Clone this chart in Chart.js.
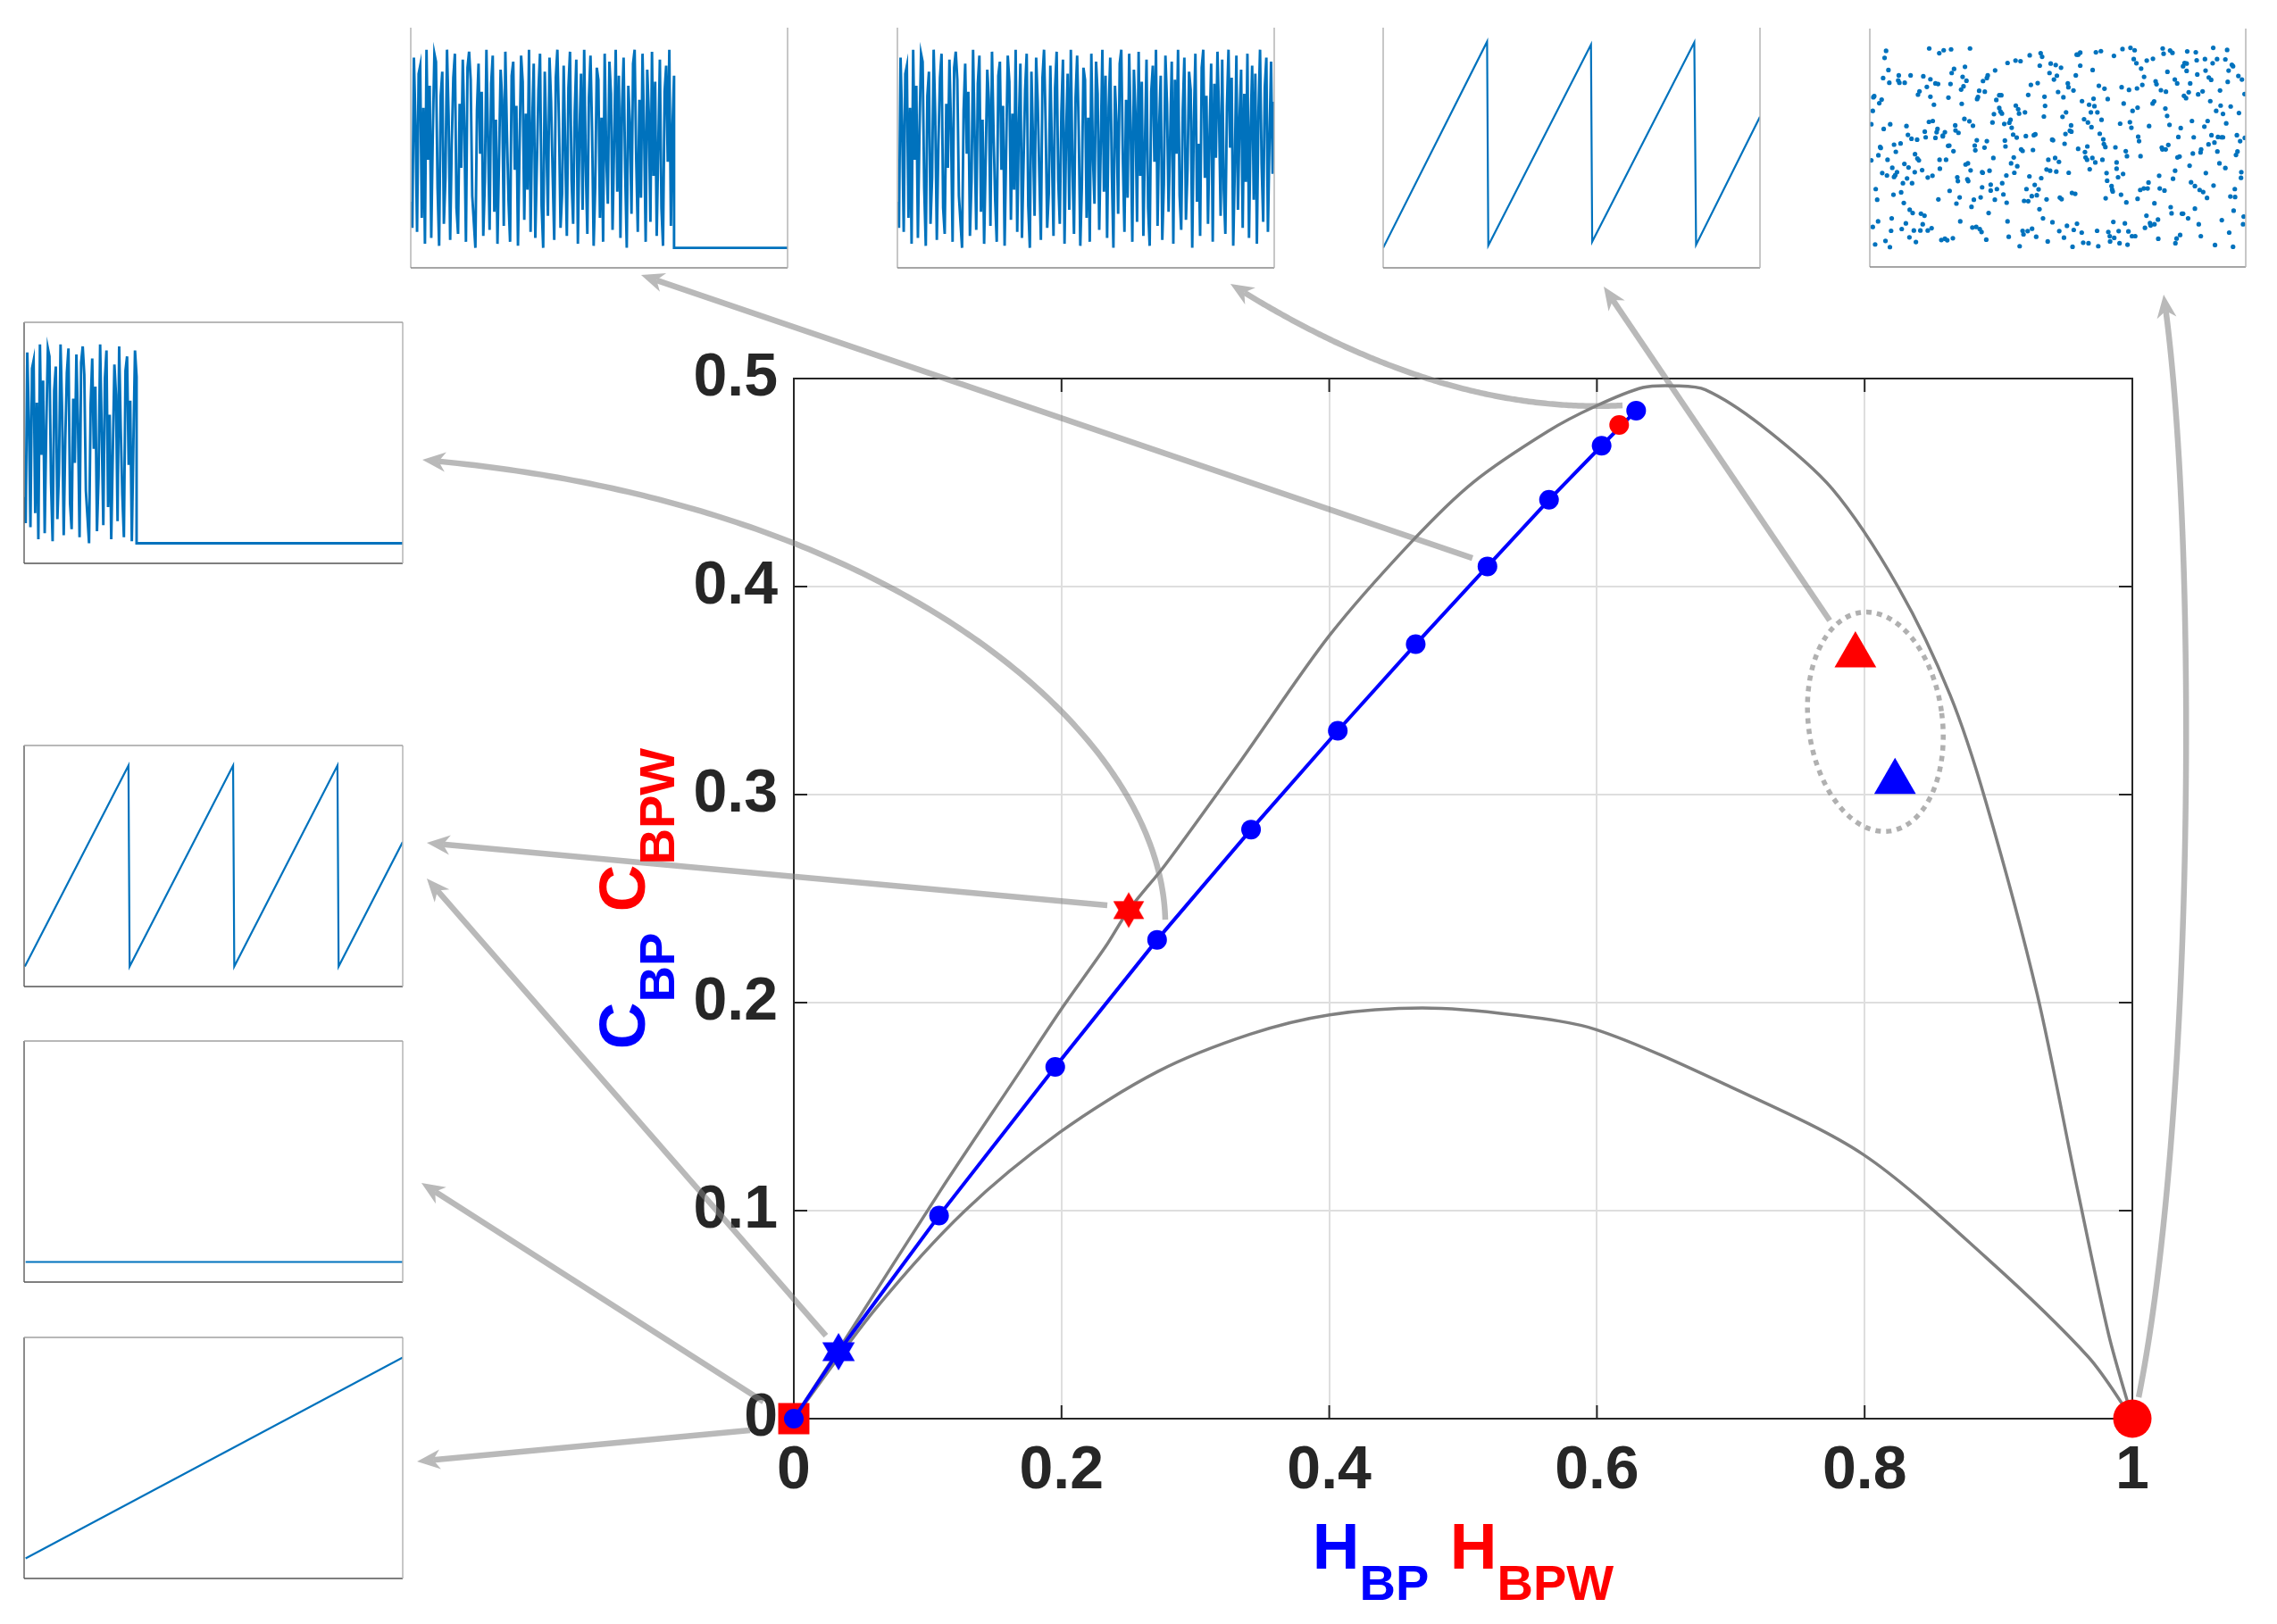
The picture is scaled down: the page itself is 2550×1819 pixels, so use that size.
<!DOCTYPE html>
<html><head><meta charset="utf-8">
<script src="https://cdn.jsdelivr.net/npm/chart.js@4.4.1/dist/chart.umd.min.js"></script>
<style>
html,body{margin:0;padding:0;background:#fff;}
#wrap{position:relative;width:2550px;height:1819px;overflow:hidden;background:#fff;}
#wrap canvas{position:absolute;}
</style></head><body><div id="wrap"><canvas id="main" width="2550" height="1819" style="left:0;top:0;width:2550px;height:1819px"></canvas></div>
<script>
// ---------------- data ----------------
const xTicks = [0, 0.2, 0.4, 0.6, 0.8, 1];
const yTicks = [0, 0.1, 0.2, 0.3, 0.4, 0.5];
const xTickLabels = ['0', '0.2', '0.4', '0.6', '0.8', '1'];
const yTickLabels = ['0', '0.1', '0.2', '0.3', '0.4', '0.5'];

const maxCurveH = [0, 0.0385, 0.1096, 0.1675, 0.2008, 0.233, 0.2502, 0.2772, 0.3334, 0.3997, 0.461, 0.5077, 0.5632, 0.5989, 0.6344, 0.6589, 0.6811, 0.7221, 0.7757, 0.8256, 0.8639, 0.8906, 0.9289, 0.9596, 0.9825, 1];
const maxCurveC = [0, 0.0382, 0.1097, 0.1655, 0.1977, 0.227, 0.2445, 0.266, 0.3158, 0.3761, 0.4212, 0.4502, 0.4746, 0.4867, 0.4957, 0.4965, 0.4946, 0.4778, 0.4470, 0.3991, 0.3478, 0.2965, 0.2041, 0.1083, 0.0399, 0];
const minCurveH = [0, 0.0607, 0.1274, 0.1986, 0.272, 0.3409, 0.4002, 0.4696, 0.5376, 0.5996, 0.6991, 0.7987, 0.8906, 0.9672, 1];
const minCurveC = [0, 0.0525, 0.0997, 0.1376, 0.1669, 0.1848, 0.1941, 0.1974, 0.1941, 0.187, 0.1597, 0.1271, 0.0775, 0.0296, 0];

const bpH = [0, 0.0334, 0.1085, 0.1953, 0.2714, 0.3416, 0.4064, 0.4646, 0.5182, 0.5642, 0.6035, 0.6293];
const bpC = [0, 0.0322, 0.0976, 0.1691, 0.2302, 0.2832, 0.3307, 0.3723, 0.4097, 0.4417, 0.4677, 0.4846];
const bpTriH = [0.8227];
const bpTriC = [0.3061];
const bpwH = [0, 0.2502, 0.6166, 0.7931, 1];
const bpwC = [0, 0.2445, 0.4777, 0.367, 0];

// ellipse annotation around the triangles (data units)
const ellipseCenter = [0.808, 0.335];
const ellipseRadii = [0.05, 0.053];

// arrows (data units; 2 pts = straight, 3 = quadratic, 4 = cubic)
const arrowPaths = [
  [[0.5070, 0.4137], [-0.1141, 0.5498]],
  [[0.6191, 0.4871], [0.4810, 0.4824], [0.3262, 0.5455]],
  [[0.7739, 0.3837], [0.6051, 0.5442]],
  [[1.0047, 0.0103], [1.0467, 0.1455], [1.0494, 0.4245], [1.0234, 0.5403]],
  [[0.2775, 0.2399], [0.2742, 0.3300], [0.0740, 0.4416], [-0.2775, 0.4609]],
  [[0.2342, 0.2468], [-0.2742, 0.2768]],
  [[0.0240, 0.0399], [-0.2742, 0.2597]],
  [[-0.0227, 0.0082], [-0.2782, 0.1133]],
  [[-0.0327, -0.0056], [-0.2815, -0.0206]]
];

// ---- inset series ----
const noiseSignal = [
0.23,0.10,0.95,0.62,0.08,0.87,0.91,0.15,0.70,0.02,0.99,0.44,0.81,0.05,0.58,0.97,0.93,0.30,0.01,0.76,
0.88,0.12,0.35,0.99,0.66,0.04,0.52,0.85,0.97,0.20,0.07,0.72,0.40,0.94,0.60,0.03,0.90,0.98,0.84,0.26,
0.13,0.00,0.69,0.92,0.47,0.78,0.06,0.33,0.99,0.55,0.09,0.82,0.96,0.18,0.64,0.02,0.45,0.89,0.74,0.11,
0.98,0.57,0.24,0.03,0.86,0.93,0.39,0.71,0.01,0.50,0.96,0.83,0.14,0.67,0.29,0.99,0.08,0.61,0.92,0.05,
0.42,0.79,0.97,0.21,0.00,0.88,0.54,0.16,0.95,0.73,0.37,0.04,0.85,0.99,0.63,0.10,0.27,0.91,0.48,0.06,
0.80,0.98,0.34,0.12,0.68,0.94,0.02,0.56,0.87,0.19,0.99,0.41,0.07,0.75,0.96,0.59,0.01,0.31,0.90,0.84,
0.15,0.65,0.03,0.97,0.46,0.22,0.93,0.77,0.09,0.53,0.99,0.28,0.86,0.05,0.70,0.95,0.38,0.00,0.81,0.62,
0.17,0.92,0.99,0.44,0.08,0.74,0.25,0.97,0.58,0.03,0.89,0.67,0.13,0.98,0.36,0.83,0.06,0.51,0.94,0.20,
0.01,0.78,0.91,0.43,0.99,0.11,0.60,0.86,0.04,0.32,0.96,0.72,0.18,0.55,0.93,0.02,0.84,0.47,0.99,0.26,
0.09,0.69,0.95,0.14,0.39,0.88,0.79,0.00,0.63,0.97,0.23,0.52,0.06,0.90,0.99,0.35,0.76,0.12,0.57,0.92,
0.03,0.82,0.45,0.98,0.66,0.16,0.94,0.29,0.07,0.71,0.99,0.50,0.85,0.01,0.40,0.96,0.19,0.64,0.89,0.10,
0.77,0.33,0.97,0.05,0.59,0.91,0.24,0.87,0.02,0.68,0.99,0.42,0.13,0.80,0.95,0.08,0.54,0.93,0.37,0.73];
const noiseCutA = 168;   // samples of noise kept in inset A (70 %)
const noiseCutE = 72;    // samples of noise kept in inset E (30 %)
const flatLevel = 0;

// scatter inset: [time, amplitude] (time 0..1272, amplitude 0..671)
const scatterTime = [0, 1272];
const scatterAmp = [0, 671];
const scatterPairs = [
[55,663],[50,639],[63,598],[45,571],[66,555],[15,510],[12,506],[40,498],[32,486],[10,460],[5,415],[69,415],[47,399],[35,338],[37,335],[82,346],[29,310],[88,322],[104,350],[5,293],[60,295],[76,268],[42,250],[58,242],[92,253],[86,243],[82,237],[20,196],[25,160],[80,177],[28,87],[74,97],[10,68],[72,55],[53,21],[18,9],[68,0],[98,580],[96,563],[100,555],
[118,555],[138,580],[181,577],[193,541],[168,526],[163,515],[205,567],[124,409],[129,379],[141,366],[160,363],[186,390],[189,371],[200,423],[213,426],[117,281],[131,269],[153,314],[161,299],[166,293],[152,253],[177,260],[196,235],[126,232],[143,216],[112,216],[106,185],[115,149],[135,126],[145,115],[173,113],[185,106],[179,77],[122,80],[108,61],[149,56],[171,56],[196,56],[209,64],[134,33],[156,17],[201,671],
[235,655],[250,665],[275,668],[205,508],[217,481],[222,553],[231,551],[266,505],[273,551],[277,588],[285,602],[226,388],[229,399],[222,369],[247,377],[254,388],[247,374],[236,295],[258,295],[237,265],[212,241],[265,342],[269,343],[283,324],[289,411],[290,394],[300,386],[232,161],[270,190],[296,236],[298,223],[293,147],[304,168],[306,87],[242,24],[254,28],[262,23],[281,30],[322,609],[314,575],[327,562],[317,543],[309,532],[311,484],
[339,671],[320,433],[337,425],[349,410],[324,279],[332,283],[341,259],[330,229],[333,223],[355,343],[357,327],[362,361],[352,160],[344,136],[375,168],[380,202],[347,66],[360,68],[372,61],[378,51],[394,25],[402,115],[383,561],[399,580],[396,571],[389,525],[370,528],[363,500],[366,507],[388,336],[396,358],[382,251],[409,191],[405,258],[380,253],[423,160],
[424,597],[466,622],[493,630],[510,628],[415,421],[438,513],[445,513],[428,497],[438,470],[420,449],[442,458],[447,451],[455,416],[472,420],[476,430],[418,301],[457,360],[459,340],[487,303],[499,273],[478,283],[489,251],[462,242],[448,216],[430,196],[409,211],[452,178],[466,87],[470,35],[463,150],[494,478],[502,466],[505,451],[480,403],[485,380],[497,370],[512,330],[517,325],
[541,648],[578,655],[583,643],[575,613],[545,548],[568,554],[536,514],[525,455],[528,375],[555,378],[560,381],[552,328],[540,239],[558,210],[530,196],[548,172],[565,175],[571,195],[580,233],[522,156],[536,155],[574,128],[598,161],[586,97],[507,3],[517,55],[520,43],[534,54],[549,62],[563,35],[602,19],[591,508],[593,477],[589,441],
[612,620],[629,615],[647,606],[608,588],[633,579],[623,566],[637,524],[655,506],[670,553],[672,540],[689,529],[617,363],[620,361],[659,349],[662,382],[677,393],[681,411],[682,390],[652,440],[664,455],[604,295],[627,301],[640,288],[598,262],[610,258],[631,255],[673,251],[643,167],[649,162],[684,183],[695,180],[618,84],[641,54],[667,72],[657,32],[686,1],[690,58],[701,79],[697,580],[712,613],[705,650],[700,650],[712,657],
[718,493],[742,481],[760,476],[757,501],[748,455],[770,455],[725,432],[738,421],[750,405],[784,430],[778,383],[790,364],[792,348],[797,338],[705,332],[736,340],[728,321],[730,303],[735,295],[753,301],[763,286],[744,263],[787,295],[801,250],[803,224],[818,206],[820,194],[822,188],[798,165],[717,49],[722,15],[740,13],[769,55],[773,3],[807,51],[812,37],[813,19],[754,598],[765,658],[782,662],[775,545],[794,535],[805,500],
[826,646],[855,669],[882,673],[896,665],[893,635],[902,621],[918,603],[928,575],[922,548],[904,536],[877,531],[852,540],[859,485],[889,460],[906,471],[847,417],[880,422],[885,403],[908,373],[911,358],[831,337],[866,324],[870,307],[916,307],[835,286],[835,265],[857,247],[840,236],[850,177],[868,151],[824,85],[863,80],[842,54],[827,31],[845,13],[872,8],[875,53],[887,37],[898,37],[915,193],[927,198],[940,198],[943,218],[906,163],
[937,630],[958,636],[967,560],[970,550],[985,530],[1002,525],[957,485],[962,492],[945,409],[988,336],[990,330],[1001,330],[1010,345],[1041,303],[1048,306],[1033,258],[1026,231],[979,241],[981,198],[997,191],[963,148],[936,106],[948,81],[950,73],[963,77],[975,93],[931,65],[976,28],[1018,135],[1021,114],[991,671],[994,653],[1016,664],[1024,656],[1007,592],[1000,468],[1006,443],[1014,413],
[1032,566],[1040,553],[1060,611],[1065,622],[1072,620],[1074,661],[1103,658],[1106,631],[1084,553],[1072,595],[1079,523],[1063,511],[1070,503],[1090,426],[1052,402],[1044,372],[1096,371],[1093,316],[1082,275],[1087,219],[1100,206],[1116,193],[1128,186],[1141,166],[1056,113],[1060,113],[1077,97],[1100,130],[1113,77],[1050,41],[1038,29],[1034,13],
[1134,635],[1160,621],[1175,635],[1162,673],[1136,596],[1108,583],[1147,573],[1155,565],[1126,526],[1111,516],[1152,493],[1185,529],[1187,478],[1172,460],[1195,450],[1143,426],[1132,407],[1156,378],[1166,353],[1178,372],[1146,347],[1121,330],[1119,320],[1176,323],[1183,283],[1203,267],[1137,250],[1163,208],[1120,37],[1168,7],[1191,91],[1190,371],[1195,371],
[1203,634],[1209,666],[1225,616],[1229,611],[1214,596],[1211,558],[1247,578],[1259,566],[1268,517],[1221,475],[1249,453],[1206,418],[1242,378],[1253,358],[1269,369],[1244,323],[1239,311],[1256,234],[1257,253],[1235,196],[1236,169],[1220,171],[1231,123],[1265,103],[1263,77],[1216,49],[1229,1]
];

const sawTopX = [0, 0.2758, 0.279, 0.5515, 0.5547, 0.8257, 0.8304, 1.0];
const sawTopY = [0.0, 1.03, 0.012, 1.015, 0.031, 1.026, 0.015, 0.655];
const sawLeftX = [0.002, 0.2756, 0.2787, 0.552, 0.5551, 0.8276, 0.8307, 1.0];
const sawLeftY = [0, 1, 0, 1, 0, 1, 0, 0.62];
const constX = [0.004, 1];
const constY = [0, 0];
const rampX = [0.004, 1];
const rampY = [0, 1];

// ---------------- styles ----------------
const BLUE = '#0000ff', RED = '#ff0000', AX = '#262626', INSET = '#0072BD';
const FONT = '"Liberation Sans", Arial, Helvetica, sans-serif';

function makeHexagram(R, color) {
  const s = Math.ceil(2 * R + 2);
  const c = document.createElement('canvas'); c.width = s; c.height = s;
  const g = c.getContext('2d'); g.fillStyle = color; g.translate(s / 2, s / 2);
  g.beginPath();
  const r = R / Math.sqrt(3);
  for (let k = 0; k < 12; k++) {
    const a = -Math.PI / 2 + k * Math.PI / 6;
    const rr = (k % 2 === 0) ? R : r;
    g.lineTo(rr * Math.cos(a), rr * Math.sin(a));
  }
  g.closePath(); g.fill();
  return c;
}
const hexBlue = makeHexagram(21, BLUE);
const hexRed = makeHexagram(20, RED);

const pts = (xs, ys) => xs.map((v, i) => ({ x: v, y: ys[i] }));

// ---------------- plugins ----------------
const framePlugin = {
  id: 'frame',
  beforeDatasetsDraw(chart) {
    const { ctx, chartArea: a, scales: { x, y } } = chart;
    ctx.save();
    ctx.strokeStyle = AX; ctx.lineWidth = 2;
    ctx.strokeRect(a.left, a.top, a.right - a.left, a.bottom - a.top);
    const TL = 15;
    ctx.beginPath();
    x.ticks.forEach(t => {
      const px = x.getPixelForValue(t.value);
      ctx.moveTo(px, a.bottom); ctx.lineTo(px, a.bottom - TL);
      ctx.moveTo(px, a.top); ctx.lineTo(px, a.top + TL);
    });
    y.ticks.forEach(t => {
      const py = y.getPixelForValue(t.value);
      ctx.moveTo(a.left, py); ctx.lineTo(a.left + TL, py);
      ctx.moveTo(a.right, py); ctx.lineTo(a.right - TL, py);
    });
    ctx.stroke();
    ctx.restore();
  }
};

function bez(P, t) {
  let q = P.map(p => p.slice());
  while (q.length > 1) {
    const n = [];
    for (let i = 0; i < q.length - 1; i++) n.push([q[i][0] + (q[i + 1][0] - q[i][0]) * t, q[i][1] + (q[i + 1][1] - q[i][1]) * t]);
    q = n;
  }
  return q[0];
}
const dist = (a, b) => Math.hypot(a[0] - b[0], a[1] - b[1]);

function drawArrow(g, P) {
  let poly = [];
  if (P.length === 2) poly = [P[0], P[1]];
  else for (let i = 0; i <= 160; i++) poly.push(bez(P, i / 160));
  const tip = poly[poly.length - 1];
  const HL = 26, HW = 11, NOTCH = 0.7 * HL;
  let k = poly.length - 1;
  while (k > 0 && dist(poly[k], tip) < HL) k--;
  const ref = poly[k];
  const L = dist(ref, tip);
  const ux = (tip[0] - ref[0]) / L, uy = (tip[1] - ref[1]) / L;
  const nx = -uy, ny = ux;
  const line = [];
  for (const p of poly) { if (dist(p, tip) >= NOTCH) line.push(p); else break; }
  line.push([tip[0] - ux * NOTCH, tip[1] - uy * NOTCH]);
  g.beginPath();
  g.moveTo(line[0][0], line[0][1]);
  for (let i = 1; i < line.length; i++) g.lineTo(line[i][0], line[i][1]);
  g.stroke();
  g.beginPath();
  g.moveTo(tip[0], tip[1]);
  g.lineTo(tip[0] - ux * HL + nx * HW, tip[1] - uy * HL + ny * HW);
  g.lineTo(tip[0] - ux * NOTCH, tip[1] - uy * NOTCH);
  g.lineTo(tip[0] - ux * HL - nx * HW, tip[1] - uy * HL - ny * HW);
  g.closePath();
  g.fill();
}

function drawRich(ctx, parts, mainSize, subSize, subDrop, gap) {
  const fm = `bold ${mainSize}px ${FONT}`, fs = `bold ${subSize}px ${FONT}`;
  const widths = parts.map(p => {
    if (p.gap) return gap;
    ctx.font = p.sub ? fs : fm;
    return ctx.measureText(p.t).width;
  });
  const total = widths.reduce((a, b) => a + b, 0);
  let cx = -total / 2;
  parts.forEach((p, i) => {
    if (!p.gap) {
      ctx.font = p.sub ? fs : fm;
      ctx.fillStyle = p.c;
      ctx.fillText(p.t, cx, p.sub ? subDrop : 0);
    }
    cx += widths[i];
  });
}

const overlayPlugin = {
  id: 'overlay',
  afterDraw(chart) {
    const { ctx, chartArea: a, scales: { x, y } } = chart;
    const toPx = p => [x.getPixelForValue(p[0]), y.getPixelForValue(p[1])];
    // ellipse
    ctx.save();
    const c = toPx(ellipseCenter);
    const rx = Math.abs(x.getPixelForValue(ellipseCenter[0] + ellipseRadii[0]) - c[0]);
    const ry = Math.abs(y.getPixelForValue(ellipseCenter[1] + ellipseRadii[1]) - c[1]);
    ctx.strokeStyle = 'rgba(150,150,150,0.75)';
    ctx.lineWidth = 5.5;
    ctx.setLineDash([6, 6]);
    ctx.beginPath();
    ctx.ellipse(c[0], c[1], rx, ry, -0.13, 0, Math.PI * 2);
    ctx.stroke();
    ctx.restore();

    // arrows (drawn opaque offscreen then blended)
    const off = document.createElement('canvas');
    off.width = chart.width; off.height = chart.height;
    const g = off.getContext('2d');
    g.strokeStyle = 'rgb(128,128,128)'; g.fillStyle = 'rgb(128,128,128)';
    g.lineWidth = 6.5; g.lineCap = 'butt'; g.lineJoin = 'round';
    arrowPaths.forEach(path => drawArrow(g, path.map(toPx)));
    ctx.save();
    ctx.globalAlpha = 0.55;
    ctx.drawImage(off, 0, 0);
    ctx.restore();

    // axis labels
    ctx.save();
    ctx.textBaseline = 'alphabetic';
    ctx.textAlign = 'left';
    ctx.translate((a.left + a.right) / 2, a.bottom + 168);
    drawRich(ctx, [
      { t: 'H', c: BLUE }, { t: 'BP', c: BLUE, sub: true }, { gap: true },
      { t: 'H', c: RED }, { t: 'BPW', c: RED, sub: true }
    ], 73, 56, 35, 23.5);
    ctx.restore();

    ctx.save();
    ctx.textBaseline = 'alphabetic';
    ctx.textAlign = 'left';
    ctx.translate(a.left - 167, (a.top + a.bottom) / 2);
    ctx.rotate(-Math.PI / 2);
    drawRich(ctx, [
      { t: 'C', c: BLUE }, { t: 'BP', c: BLUE, sub: true }, { gap: true },
      { t: 'C', c: RED }, { t: 'BPW', c: RED, sub: true }
    ], 73, 56, 33, 23.5);
    ctx.restore();
  }
};

// ---------------- main chart ----------------
const tickFont = { family: FONT, size: 68, weight: 'bold' };
const curveStyle = { showLine: true, borderColor: '#808080', borderWidth: 3.5, pointRadius: 0, tension: 0.3, clip: false };
new Chart(document.getElementById('main'), {
  type: 'scatter',
  data: {
    datasets: [
      Object.assign({ data: pts(maxCurveH, maxCurveC), order: 10 }, curveStyle),
      Object.assign({ data: pts(minCurveH, minCurveC), order: 9 }, curveStyle),
      { data: pts(bpwH.slice(0, 1), bpwC.slice(0, 1)), pointStyle: 'rect', pointRadius: 24.7, backgroundColor: RED, borderWidth: 0, order: 8, clip: false },
      { data: pts(bpH, bpC), showLine: true, borderColor: BLUE, borderWidth: 4,
        pointStyle: bpH.map((_, i) => i === 1 ? hexBlue : 'circle'), pointRadius: 11,
        pointBackgroundColor: BLUE, pointBorderWidth: 0, order: 7, clip: false },
      { data: pts(bpwH.slice(1), bpwC.slice(1)), pointStyle: [hexRed, 'circle', 'triangle', 'circle'],
        pointRadius: [20, 11, 27, 21.5], backgroundColor: RED, pointBorderWidth: 0, borderWidth: 0, order: 6, clip: false },
      { data: pts(bpTriH, bpTriC), pointStyle: 'triangle', pointRadius: 27, backgroundColor: BLUE, borderWidth: 0, order: 5, clip: false }
    ]
  },
  options: {
    responsive: false, animation: false, devicePixelRatio: 1,
    layout: { padding: { left: 889 - 150, right: 2550 - 2388, top: 424, bottom: 1819 - 1589 - 100 } },
    plugins: { legend: { display: false }, tooltip: { enabled: false } },
    scales: {
      x: {
        type: 'linear', min: 0, max: 1,
        afterBuildTicks: s => { s.ticks = xTicks.map(v => ({ value: v })); },
        afterFit: s => { s.height = 100; },
        ticks: { callback: (v, i) => xTickLabels[i], font: tickFont, color: AX, padding: 18, maxRotation: 0, autoSkip: false },
        grid: { color: '#dedede', lineWidth: 2, drawTicks: false },
        border: { display: false }
      },
      y: {
        type: 'linear', min: 0, max: 0.5,
        afterBuildTicks: s => { s.ticks = yTicks.map(v => ({ value: v })); },
        afterFit: s => { s.width = 150; },
        ticks: { callback: (v, i) => yTickLabels[i], font: tickFont, color: AX, padding: 18, autoSkip: false },
        grid: { color: '#dedede', lineWidth: 2, drawTicks: false },
        border: { display: false }
      }
    }
  },
  plugins: [framePlugin, overlayPlugin]
});

// ---------------- insets ----------------
const wrap = document.getElementById('wrap');
function insetFrame(hasTop) {
  return {
    id: 'insetFrame',
    afterDraw(chart) {
      const { ctx, chartArea: a } = chart;
      ctx.save();
      ctx.lineWidth = 1.5;
      ctx.strokeStyle = hasTop ? '#666' : '#b4b4b4';
      ctx.beginPath(); ctx.moveTo(a.left, a.top); ctx.lineTo(a.left, a.bottom); ctx.stroke();
      ctx.strokeStyle = hasTop ? '#555' : '#888';
      ctx.beginPath(); ctx.moveTo(a.left, a.bottom); ctx.lineTo(a.right, a.bottom); ctx.stroke();
      ctx.strokeStyle = '#b4b4b4';
      ctx.beginPath(); ctx.moveTo(a.right, a.top); ctx.lineTo(a.right, a.bottom); ctx.stroke();
      if (hasTop) { ctx.strokeStyle = '#a0a0a0'; ctx.beginPath(); ctx.moveTo(a.left, a.top); ctx.lineTo(a.right, a.top); ctx.stroke(); }
      ctx.restore();
    }
  };
}
function makeInset(L, T, W, H, datasets, xr, yr, hasTop) {
  const P = 3;
  const c = document.createElement('canvas');
  c.width = W + 2 * P; c.height = H + 2 * P;
  c.style.left = (L - P) + 'px'; c.style.top = (T - P) + 'px';
  c.style.width = (W + 2 * P) + 'px'; c.style.height = (H + 2 * P) + 'px';
  wrap.appendChild(c);
  // y axis padded by 10 % of the amplitude range on both sides (MATLAB-like)
  const span = yr[1] - yr[0];
  new Chart(c, {
    type: 'scatter',
    data: { datasets },
    options: {
      responsive: false, animation: false, devicePixelRatio: 1,
      layout: { padding: P },
      plugins: { legend: { display: false }, tooltip: { enabled: false } },
      scales: {
        x: { type: 'linear', display: false, min: xr[0], max: xr[1] },
        y: { type: 'linear', display: false, min: yr[0] - 0.1 * span, max: yr[1] + 0.1 * span }
      }
    },
    plugins: [insetFrame(hasTop)]
  });
}
const lineDs = (data, w) => ({ data, showLine: true, borderColor: INSET, borderWidth: w || 2.2, pointRadius: 0, tension: 0 });
const nLast = noiseSignal.length - 1;
const noisePts = noiseSignal.map((v, i) => ({ x: i, y: v }));
const unit = [0, 1];

// top row
makeInset(460, 31, 422, 269, [lineDs(noisePts.slice(0, noiseCutA).concat([{ x: noiseCutA - 1, y: flatLevel }, { x: nLast, y: flatLevel }]), 2.9)], [0, nLast], unit, false);
makeInset(1005, 31, 422, 269, [lineDs(noisePts, 2.9)], [0, nLast], unit, false);
makeInset(1549, 31, 422, 269, [lineDs(pts(sawTopX, sawTopY))], unit, unit, false);
makeInset(2093, 31, 423, 269, [{ data: scatterPairs.map(p => ({ x: p[0], y: p[1] })), showLine: false, pointRadius: 2.6, backgroundColor: INSET, borderWidth: 0 }], scatterTime, scatterAmp, false);
// left column
makeInset(27, 361, 424, 270, [lineDs(noisePts.slice(0, noiseCutE).concat([{ x: noiseCutE - 1, y: flatLevel }, { x: nLast, y: flatLevel }]), 2.9)], [0, nLast], unit, true);
makeInset(27, 835, 424, 270, [lineDs(pts(sawLeftX, sawLeftY))], unit, unit, true);
makeInset(27, 1166, 424, 270, [lineDs(pts(constX, constY))], unit, unit, true);
makeInset(27, 1498, 424, 270, [lineDs(pts(rampX, rampY))], unit, unit, true);
</script></body></html>
